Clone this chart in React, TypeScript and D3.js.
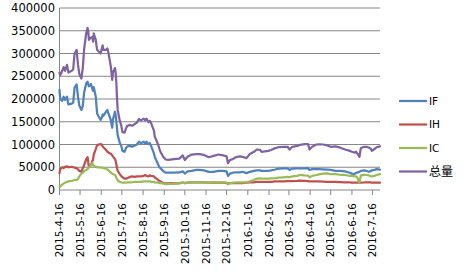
import React from "react";
import * as d3 from "d3";

const dates = [
"2015-04-16","2015-04-17","2015-04-20","2015-04-22","2015-04-24","2015-04-27","2015-04-29","2015-05-04","2015-05-06","2015-05-08",
"2015-05-11","2015-05-13","2015-05-15","2015-05-18","2015-05-20","2015-05-22","2015-05-25","2015-05-27","2015-05-28","2015-05-29",
"2015-06-01","2015-06-03","2015-06-04","2015-06-05","2015-06-08","2015-06-09","2015-06-10","2015-06-12","2015-06-15","2015-06-17",
"2015-06-18","2015-06-19","2015-06-23","2015-06-25","2015-06-26","2015-06-29","2015-06-30","2015-07-02","2015-07-03","2015-07-06",
"2015-07-07","2015-07-08","2015-07-09","2015-07-10","2015-07-13","2015-07-15","2015-07-17","2015-07-20","2015-07-22","2015-07-24",
"2015-07-28","2015-07-31","2015-08-04","2015-08-07","2015-08-10","2015-08-13","2015-08-17","2015-08-19","2015-08-21","2015-08-24",
"2015-08-26","2015-08-28","2015-09-01","2015-09-02","2015-09-07","2015-09-09","2015-09-11","2015-09-15","2015-09-18","2015-09-22",
"2015-09-25","2015-09-30","2015-10-08","2015-10-13","2015-10-16","2015-10-20","2015-10-26","2015-11-02","2015-11-06","2015-11-13",
"2015-11-20","2015-11-27","2015-12-04","2015-12-11","2015-12-16","2015-12-18","2015-12-21","2015-12-25","2015-12-31","2016-01-05",
"2016-01-08","2016-01-14","2016-01-19","2016-01-25","2016-01-29","2016-02-03","2016-02-05","2016-02-15","2016-02-19","2016-02-25",
"2016-03-01","2016-03-08","2016-03-14","2016-03-17","2016-03-21","2016-03-28","2016-04-01","2016-04-08","2016-04-13","2016-04-15",
"2016-04-19","2016-04-25","2016-04-29","2016-05-05","2016-05-11","2016-05-16","2016-05-23","2016-05-30","2016-06-06","2016-06-13",
"2016-06-16","2016-06-20","2016-06-22","2016-06-24","2016-06-27","2016-06-29","2016-07-04","2016-07-07","2016-07-11","2016-07-14",
"2016-07-15","2016-07-19","2016-07-22","2016-07-27"
];

const IF = [
220000,200000,196000,205000,198000,205000,188000,190000,192000,225000,
232000,205000,185000,176000,185000,215000,234000,238000,232000,228000,
233000,222000,218000,226000,205000,185000,168000,162000,154000,160000,
166000,163000,172000,176000,170000,158000,152000,137000,155000,172000,
165000,150000,135000,120000,104000,98000,86000,84000,92000,96000,
97000,95000,98000,100000,106000,103000,106000,102000,106000,101000,
103000,96000,80000,73000,56000,50000,47000,41000,38000,38000,
38000,38000,38500,41000,36000,41000,42000,44000,44000,43000,
40000,40000,42000,42000,41000,31000,36000,38000,39000,39000,
40000,37000,40000,42000,43000,43000,42000,42000,43000,45000,
47000,47500,47500,44000,47000,47500,47500,47500,48000,44000,
46000,46000,46000,45500,45000,44000,42000,42000,41000,38000,
36000,35000,38000,38000,40000,42000,43000,42000,40000,42000,
43000,44000,46000,45000
];

const IH = [
37000,46000,50000,48000,51000,52000,50000,51000,50000,49000,
48000,45000,42000,40000,48000,55000,68000,72000,60000,51000,
55000,64000,66000,78000,90000,95000,98000,100000,101000,99000,
96000,94000,88000,84000,83000,80000,80000,76000,74000,68000,
64000,56000,48000,42000,35000,31000,28000,25000,25000,26000,
29000,30000,29000,30000,30000,30000,31000,33000,31000,30000,
32000,31000,30000,28000,22000,20000,18000,15000,14500,14500,
15000,14500,15000,16000,15000,16000,16500,17000,17000,17000,
16000,17000,16000,16000,15000,15000,15000,15000,15000,15000,
15000,16000,17000,17000,18000,18000,18000,18000,18000,19000,
19000,19000,19500,19500,19500,20000,20500,20000,19500,19000,
19000,19000,19000,18500,18000,18000,18000,17500,17000,16500,
16000,16000,16000,16000,16000,16000,16500,17000,17000,16500,
16000,16000,16000,16000
];

const IC = [
6000,8000,12000,14000,16000,18000,19000,20000,21000,22000,
22000,24000,30000,36000,38000,42000,44000,46000,48000,50000,
54000,60000,55000,53000,51000,51000,50000,50000,49000,49000,
49000,48000,47000,45000,44000,40000,38000,36000,35000,33000,
31000,27000,24000,21000,18000,17000,16000,16000,16000,17000,
17000,17000,18000,18000,18000,18000,19000,19000,19000,19000,
19000,18000,18000,17000,16000,15000,15000,14000,13000,13000,
13500,13500,14500,16000,15000,16000,16500,17000,17000,16000,
16000,17000,17000,16500,16000,12500,15000,16000,17000,17000,
17000,17000,19000,22000,25000,25500,25000,25000,25500,26000,
27000,28000,29000,28000,30000,31000,33000,32000,31500,28000,
31000,33000,34500,36000,36500,35000,35000,33500,33000,31000,
31000,30000,30000,27000,16000,32000,33000,33000,32000,30000,
30000,31000,33000,35000
];

const TOTAL = [
258000,252000,262000,270000,262000,275000,258000,262000,265000,300000,
308000,275000,255000,245000,268000,310000,345000,356000,348000,330000,
335000,336000,326000,344000,330000,318000,308000,305000,300000,312000,
318000,308000,308000,311000,305000,280000,270000,242000,258000,268000,
258000,236000,200000,176000,152000,143000,127000,126000,135000,141000,
143000,141000,145000,148000,156000,153000,157000,153000,157000,149000,
152000,146000,130000,118000,100000,90000,82000,72000,67000,66000,
67000,68000,69000,76000,66000,73000,78000,79000,79000,77000,
72000,75000,78000,76000,74000,59000,66000,68000,73000,74000,
73000,70000,79000,84000,89000,88000,84000,86000,88000,92000,
94000,95000,95000,89000,95000,97000,99000,101000,101000,89000,
95000,100000,100500,100000,98000,95000,96000,93000,89000,86000,
84000,82000,84000,80000,73000,92000,95000,95000,93000,90000,
86000,90000,94000,96000
];

const seriesNames = ["IF", "IH", "IC", "总量"];
const seriesColors = ["#4F81BD", "#C0504D", "#9BBB59", "#8064A2"];
const yTicks = [0, 50000, 100000, 150000, 200000, 250000, 300000, 350000, 400000];
const xTickLabels = [
"2015-4-16","2015-5-16","2015-6-16","2015-7-16","2015-8-16","2015-9-16","2015-10-16","2015-11-16",
"2015-12-16","2016-1-16","2016-2-16","2016-3-16","2016-4-16","2016-5-16","2016-6-16","2016-7-16"
];
const domainStart = "2015-04-16";
const domainEnd = "2016-07-27";

const parse = (s: string) => {
  const [y, m, d] = s.split("-").map(Number);
  return new Date(y, m - 1, d);
};

export default function App() {
  const W = 465, H = 272;
  const left = 59.5, right = 380, top = 8, bottom = 190;
  const x = d3.scaleTime().domain([parse(domainStart), parse(domainEnd)]).range([left, right]);
  const y = d3.scaleLinear().domain([0, 400000]).range([bottom, top]);
  const parsed = dates.map(parse);
  const all = [IF, IH, IC, TOTAL];
  const line = d3.line<number>().x((_, i) => x(parsed[i])).y((v) => y(v));
  const font = "'DejaVu Sans', Verdana, sans-serif";
  const grid = "#868686";
  const legendY = [101, 124.5, 148, 171.5];

  return (
    <svg width={W} height={H} style={{ position: "absolute", left: 0, top: 0, background: "#fff" }}>
      {yTicks.map((t) => (
        <g key={t}>
          {t > 0 && <line x1={left} x2={right} y1={y(t)} y2={y(t)} stroke={grid} strokeWidth={1} />}
          <text x={55} y={y(t)} dy="0.36em" textAnchor="end" fontFamily={font} fontSize={11.5} fill="#000">{t}</text>
        </g>
      ))}
      <line x1={left} x2={left} y1={top} y2={bottom} stroke={grid} strokeWidth={1} />
      <line x1={left} x2={right} y1={bottom} y2={bottom} stroke={grid} strokeWidth={1} />
      {xTickLabels.map((lab) => {
        const tx = x(parse(lab));
        return (
          <g key={lab}>
            <line x1={tx} x2={tx} y1={bottom} y2={bottom + 5} stroke={grid} strokeWidth={1} />
            <text transform={`translate(${tx},${bottom + 13}) rotate(-90)`} dy="0.36em" textAnchor="end"
              fontFamily={font} fontSize={10.5} fill="#000">{lab}</text>
          </g>
        );
      })}
      {all.map((vals, i) => (
        <path key={i} d={line(vals) || ""} fill="none" stroke={seriesColors[i]} strokeWidth={2.25}
          strokeLinejoin="round" strokeLinecap="round" />
      ))}
      {seriesNames.map((n, i) => (
        <g key={n}>
          <line x1={399} x2={427} y1={legendY[i]} y2={legendY[i]} stroke={seriesColors[i]} strokeWidth={2.25} />
          <text x={429} y={legendY[i]} dy="0.36em" fontFamily={i === 3 ? "'Noto Sans CJK SC', sans-serif" : font}
            fontSize={i === 3 ? 12 : 10.5} fill="#000">{n}</text>
        </g>
      ))}
    </svg>
  );
}
